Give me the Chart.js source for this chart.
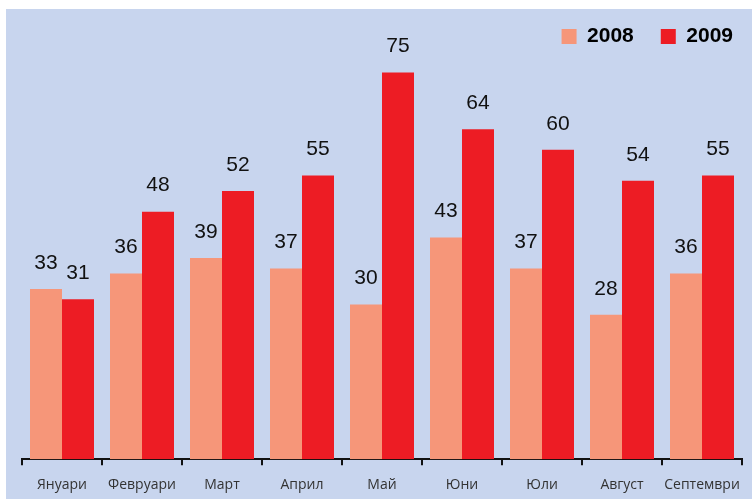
<!DOCTYPE html>
<html>
<head>
<meta charset="utf-8">
<script src="https://cdn.jsdelivr.net/npm/chart.js@4"></script>
<style>
  html, body { margin: 0; padding: 0; background: #fff; }
  #wrap {
    position: absolute; left: 6px; top: 9px;
    width: 746px; height: 490px;
    background: #c8d5ee;
  }
</style>
</head>
<body>
<div id="wrap"><canvas id="chart" width="746" height="490"></canvas></div>
<script>
'use strict';

// ─── Data ────────────────────────────────────────────────
const months = ['Януари', 'Февруари', 'Март', 'Април', 'Май', 'Юни', 'Юли', 'Август', 'Септември'];
const values2008 = [33, 36, 39, 37, 30, 43, 37, 28, 36];
const values2009 = [31, 48, 52, 55, 75, 64, 60, 54, 55];

// values printed above each bar
const valueLabels = {
  id: 'valueLabels',
  afterDatasetsDraw(chart) {
    const c = chart.ctx;
    c.save();
    c.font = "21px 'Liberation Sans', Arial, sans-serif";
    c.fillStyle = '#111';
    c.textAlign = 'center';
    c.textBaseline = 'middle';
    chart.data.datasets.forEach((ds, i) => {
      chart.getDatasetMeta(i).data.forEach((bar, j) => {
        c.fillText(ds.data[j], bar.x, bar.y - 26);
      });
    });
    c.restore();
  },
};

// push the legend a bit further right than the chart padding allows
const legendShift = {
  id: 'legendShift',
  afterLayout(chart) {
    chart.legend.left += 18;
    chart.legend.right += 18;
  },
};

new Chart(document.getElementById('chart'), {
  type: 'bar',
  data: {
    labels: months,
    datasets: [
      { label: '2008', data: values2008, backgroundColor: '#f69679' },
      { label: '2009', data: values2009, backgroundColor: '#ed1c24' },
    ],
  },
  options: {
    responsive: false,
    animation: false,
    layout: { padding: { left: 16, right: 10, top: -10, bottom: -5 } },
    datasets: { bar: { categoryPercentage: 0.8, barPercentage: 1.0 } },
    scales: {
      x: {
        border: { color: '#111', width: 2 },
        grid: { display: true, drawOnChartArea: false, color: '#111', lineWidth: 2, tickLength: 6, offset: true },
        ticks: {
          font: { family: "'Open Sans', sans-serif", size: 14 },
          color: '#333',
          padding: 11,
          maxRotation: 0,
          minRotation: 0,
          autoSkip: false,
        },
      },
      y: { display: false, min: 0, max: 78 },
    },
    plugins: {
      legend: {
        position: 'top',
        align: 'end',
        labels: {
          font: { family: "'Liberation Sans', Arial, sans-serif", size: 21, weight: 'bold' },
          color: '#000',
          boxWidth: 15,
          boxHeight: 15,
          padding: 27,
        },
      },
      tooltip: { enabled: false },
    },
  },
  plugins: [valueLabels, legendShift],
});
</script>
</body>
</html>
